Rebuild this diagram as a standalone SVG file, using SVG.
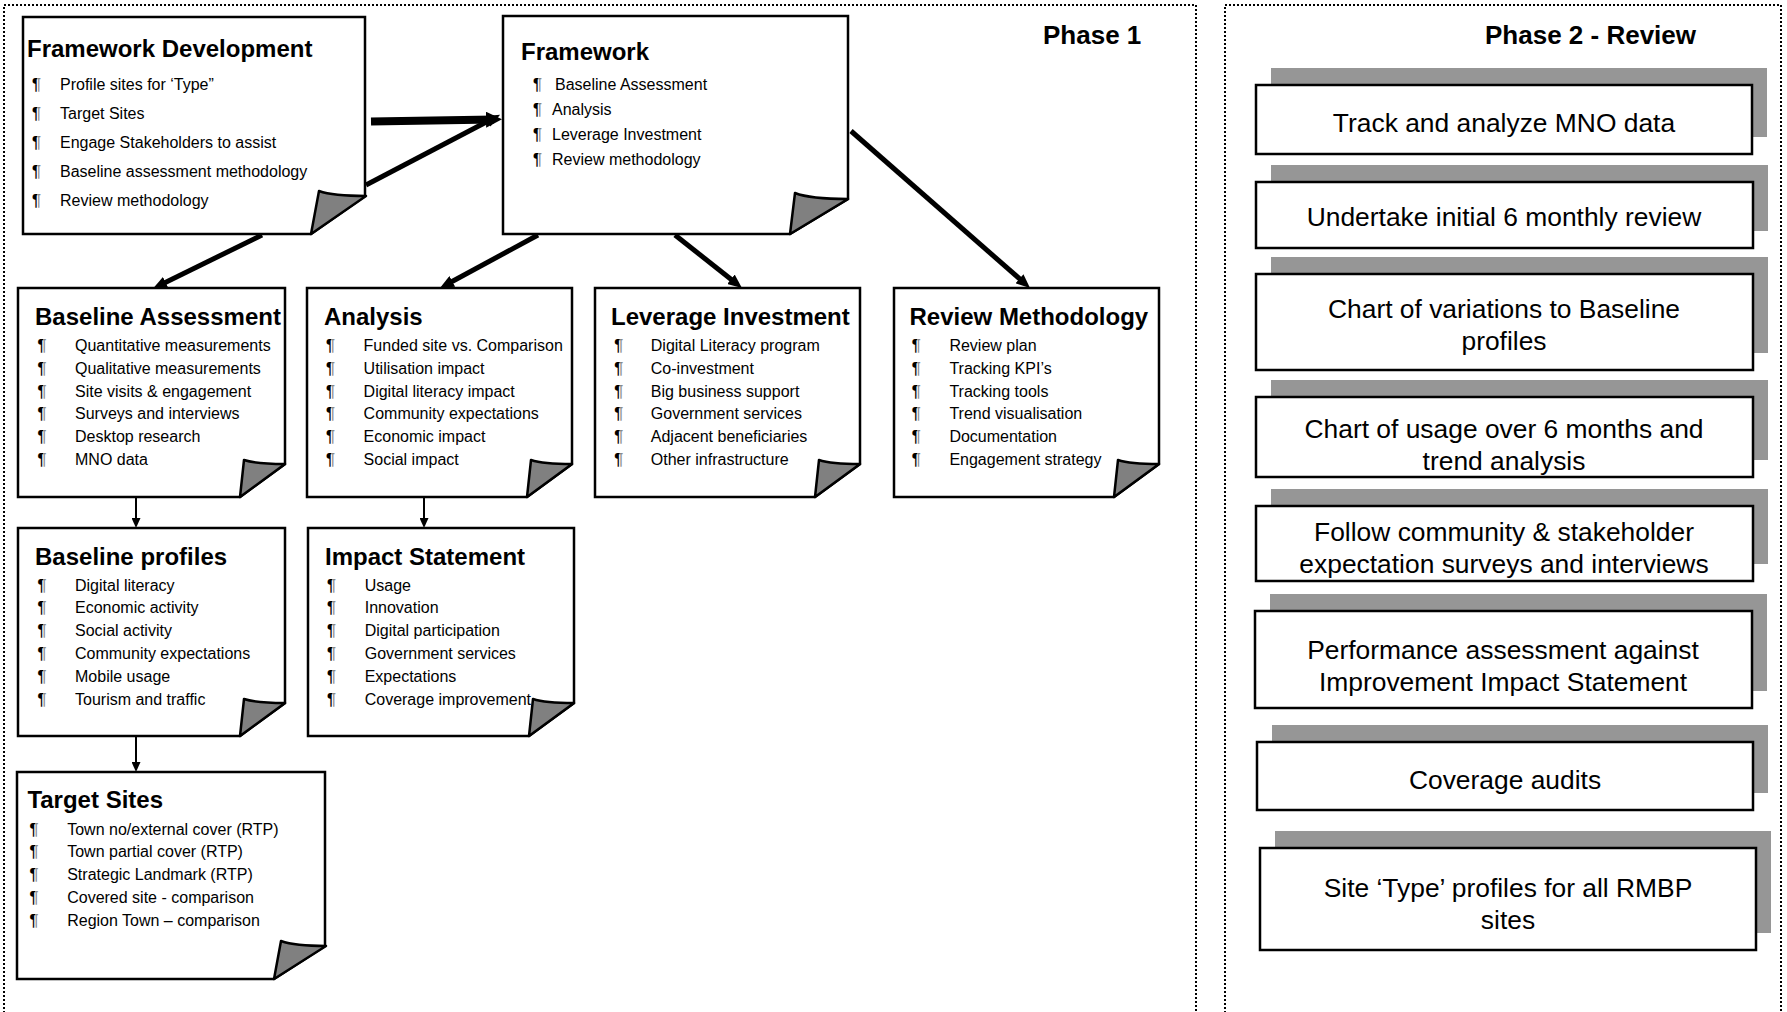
<svg xmlns="http://www.w3.org/2000/svg" width="1787" height="1012" viewBox="0 0 1787 1012">
<style>
text{font-family:"Liberation Sans",Arial,sans-serif;fill:#000}
.t{font-size:24px;font-weight:bold}
.ph{font-size:26px;font-weight:bold}
.i{font-size:16px}
.b{font-size:16px;font-weight:bold;fill:url(#pg)}
.p2{font-size:26.4px;text-anchor:middle}
.page{fill:#fff;stroke:#000;stroke-width:2.5;stroke-linejoin:miter}
.fold{fill:#808080;stroke:#000;stroke-width:2.5;stroke-linejoin:round}
.frame{fill:none;stroke:#000;stroke-width:2;stroke-dasharray:2 2}
.sh{fill:#969696}
.bx{fill:#fff;stroke:#000;stroke-width:2.5}
.thick{stroke:#000;stroke-width:5;fill:none;marker-end:url(#ah)}
.thin{stroke:#000;stroke-width:2;fill:none;marker-end:url(#as)}
</style>
<defs>
<linearGradient id="pg" x1="0" y1="0" x2="1" y2="0">
<stop offset="0" stop-color="#000"/><stop offset="0.55" stop-color="#000"/><stop offset="0.6" stop-color="#8a8a8a"/><stop offset="1" stop-color="#8a8a8a"/>
</linearGradient>
<marker id="ah" markerUnits="userSpaceOnUse" markerWidth="14" markerHeight="12" refX="6" refY="6" orient="auto"><path d="M0,0 L14,6 L0,12 Z" fill="#000"/></marker>
<marker id="ahb" markerUnits="userSpaceOnUse" markerWidth="16" markerHeight="16" refX="8" refY="8" orient="auto"><path d="M0,0 L16,8 L0,16 Z" fill="#000"/></marker>
<marker id="as" markerUnits="userSpaceOnUse" markerWidth="10" markerHeight="9" refX="5" refY="4.5" orient="auto"><path d="M0,0 L10,4.5 L0,9 Z" fill="#000"/></marker>
</defs>
<rect fill="#fff" x="0" y="0" width="1787" height="1012"/>
<rect class="frame" x="4" y="5" width="1192" height="1030"/>
<rect class="frame" x="1225" y="5" width="556" height="1030"/>
<text class="ph" x="1043" y="44">Phase 1</text>
<text class="ph" x="1485" y="44">Phase 2 - Review</text>

<g id="connectors">
<path class="thick" style="stroke-width:8;marker-end:url(#ahb)" d="M371,121.5 L494,119.5"/>
<path class="thick" d="M366,185 L493,118.5"/>
<path class="thick" d="M262,235 L160.2,285"/>
<path class="thick" d="M538,235 L447,284.2"/>
<path class="thick" d="M675,235 L735.7,283"/>
<path class="thick" d="M851,131 L1024,282.7"/>
<path class="thin" d="M136,497 L136,523"/>
<path class="thin" d="M424,497 L424,523"/>
<path class="thin" d="M136,736 L136,767"/>
</g>

<g id="framework-development">
<path class="page" d="M23,17 H365 V196 L311,234 H23 Z"/>
<path class="fold" d="M319,191 Q333,196 366,196 L311,234 Z"/>
<text class="t" x="27" y="56.5">Framework Development</text>
<text class="b" x="32" y="90">¶</text><text class="i" x="60" y="90">Profile sites for ‘Type”</text>
<text class="b" x="32" y="118.6">¶</text><text class="i" x="60" y="118.6">Target Sites</text>
<text class="b" x="32" y="148.3">¶</text><text class="i" x="60" y="148.3">Engage Stakeholders to assist</text>
<text class="b" x="32" y="176.8">¶</text><text class="i" x="60" y="176.8">Baseline assessment methodology</text>
<text class="b" x="32" y="206.4">¶</text><text class="i" x="60" y="206.4">Review methodology</text>
</g>

<g id="framework">
<path class="page" d="M503,16 H848 V199 L790,234 H503 Z"/>
<path class="fold" d="M795,193 Q810,199 848,199 L790,234 Z"/>
<text class="t" x="521" y="60">Framework</text>
<text class="b" x="533" y="90">¶</text><text class="i" x="555" y="90">Baseline Assessment</text>
<text class="b" x="533" y="115">¶</text><text class="i" x="552" y="115">Analysis</text>
<text class="b" x="533" y="140">¶</text><text class="i" x="552" y="140">Leverage Investment</text>
<text class="b" x="533" y="165">¶</text><text class="i" x="552" y="165">Review methodology</text>
</g>

<g id="baseline-assessment">
<path class="page" d="M18,288 H285 V464 L240,497 H18 Z"/>
<path class="fold" d="M244,460 Q256,464 285,464 L240,497 Z"/>
<text class="t" x="35" y="324.5">Baseline Assessment</text>
<text class="b" x="37.6" y="351">¶</text><text class="i" x="75" y="351">Quantitative measurements</text>
<text class="b" x="37.6" y="373.8">¶</text><text class="i" x="75" y="373.8">Qualitative measurements</text>
<text class="b" x="37.6" y="396.6">¶</text><text class="i" x="75" y="396.6">Site visits &amp; engagement</text>
<text class="b" x="37.6" y="419.4">¶</text><text class="i" x="75" y="419.4">Surveys and interviews</text>
<text class="b" x="37.6" y="442.2">¶</text><text class="i" x="75" y="442.2">Desktop research</text>
<text class="b" x="37.6" y="465">¶</text><text class="i" x="75" y="465">MNO data</text>
</g>

<g id="analysis">
<path class="page" d="M307,288 H572 V464 L527,497 H307 Z"/>
<path class="fold" d="M531,460 Q543,464 572,464 L527,497 Z"/>
<text class="t" x="324" y="324.5">Analysis</text>
<text class="b" x="326" y="351">¶</text><text class="i" x="363.6" y="351">Funded site vs. Comparison</text>
<text class="b" x="326" y="373.8">¶</text><text class="i" x="363.6" y="373.8">Utilisation impact</text>
<text class="b" x="326" y="396.6">¶</text><text class="i" x="363.6" y="396.6">Digital literacy impact</text>
<text class="b" x="326" y="419.4">¶</text><text class="i" x="363.6" y="419.4">Community expectations</text>
<text class="b" x="326" y="442.2">¶</text><text class="i" x="363.6" y="442.2">Economic impact</text>
<text class="b" x="326" y="465">¶</text><text class="i" x="363.6" y="465">Social impact</text>
</g>

<g id="leverage-investment">
<path class="page" d="M595,288 H860 V464 L815,497 H595 Z"/>
<path class="fold" d="M819,460 Q831,464 860,464 L815,497 Z"/>
<text class="t" x="611" y="324.5">Leverage Investment</text>
<text class="b" x="614.3" y="351">¶</text><text class="i" x="650.8" y="351">Digital Literacy program</text>
<text class="b" x="614.3" y="373.8">¶</text><text class="i" x="650.8" y="373.8">Co-investment</text>
<text class="b" x="614.3" y="396.6">¶</text><text class="i" x="650.8" y="396.6">Big business support</text>
<text class="b" x="614.3" y="419.4">¶</text><text class="i" x="650.8" y="419.4">Government services</text>
<text class="b" x="614.3" y="442.2">¶</text><text class="i" x="650.8" y="442.2">Adjacent beneficiaries</text>
<text class="b" x="614.3" y="465">¶</text><text class="i" x="650.8" y="465">Other infrastructure</text>
</g>

<g id="review-methodology">
<path class="page" d="M894,288 H1159 V464 L1114,497 H894 Z"/>
<path class="fold" d="M1118,460 Q1130,464 1159,464 L1114,497 Z"/>
<text class="t" x="909.5" y="324.5">Review Methodology</text>
<text class="b" x="911.8" y="351">¶</text><text class="i" x="949.4" y="351">Review plan</text>
<text class="b" x="911.8" y="373.8">¶</text><text class="i" x="949.4" y="373.8">Tracking KPI’s</text>
<text class="b" x="911.8" y="396.6">¶</text><text class="i" x="949.4" y="396.6">Tracking tools</text>
<text class="b" x="911.8" y="419.4">¶</text><text class="i" x="949.4" y="419.4">Trend visualisation</text>
<text class="b" x="911.8" y="442.2">¶</text><text class="i" x="949.4" y="442.2">Documentation</text>
<text class="b" x="911.8" y="465">¶</text><text class="i" x="949.4" y="465">Engagement strategy</text>
</g>

<g id="baseline-profiles">
<path class="page" d="M18,528 H285 V703 L240,736 H18 Z"/>
<path class="fold" d="M244,699 Q256,703 285,703 L240,736 Z"/>
<text class="t" x="35" y="565">Baseline profiles</text>
<text class="b" x="37.6" y="590.5">¶</text><text class="i" x="75" y="590.5">Digital literacy</text>
<text class="b" x="37.6" y="613.3">¶</text><text class="i" x="75" y="613.3">Economic activity</text>
<text class="b" x="37.6" y="636.1">¶</text><text class="i" x="75" y="636.1">Social activity</text>
<text class="b" x="37.6" y="658.9">¶</text><text class="i" x="75" y="658.9">Community expectations</text>
<text class="b" x="37.6" y="681.7">¶</text><text class="i" x="75" y="681.7">Mobile usage</text>
<text class="b" x="37.6" y="704.5">¶</text><text class="i" x="75" y="704.5">Tourism and traffic</text>
</g>

<g id="impact-statement">
<path class="page" d="M308,528 H574 V703 L529,736 H308 Z"/>
<path class="fold" d="M533,699 Q545,703 574,703 L529,736 Z"/>
<text class="t" x="325" y="565">Impact Statement</text>
<text class="b" x="327" y="590.5">¶</text><text class="i" x="364.7" y="590.5">Usage</text>
<text class="b" x="327" y="613.3">¶</text><text class="i" x="364.7" y="613.3">Innovation</text>
<text class="b" x="327" y="636.1">¶</text><text class="i" x="364.7" y="636.1">Digital participation</text>
<text class="b" x="327" y="658.9">¶</text><text class="i" x="364.7" y="658.9">Government services</text>
<text class="b" x="327" y="681.7">¶</text><text class="i" x="364.7" y="681.7">Expectations</text>
<text class="b" x="327" y="704.5">¶</text><text class="i" x="364.7" y="704.5">Coverage improvement</text>
</g>

<g id="target-sites">
<path class="page" d="M17,772 H325 V946 L274,979 H17 Z"/>
<path class="fold" d="M281,941 Q295,946 326,946 L274,979 Z"/>
<text class="t" x="27.4" y="808">Target Sites</text>
<text class="b" x="29.6" y="834.5">¶</text><text class="i" x="67.2" y="834.5">Town no/external cover (RTP)</text>
<text class="b" x="29.6" y="857.3">¶</text><text class="i" x="67.2" y="857.3">Town partial cover (RTP)</text>
<text class="b" x="29.6" y="880.1">¶</text><text class="i" x="67.2" y="880.1">Strategic Landmark (RTP)</text>
<text class="b" x="29.6" y="902.9">¶</text><text class="i" x="67.2" y="902.9">Covered site - comparison</text>
<text class="b" x="29.6" y="925.7">¶</text><text class="i" x="67.2" y="925.7">Region Town – comparison</text>
</g>

<g id="p2-track">
<rect class="sh" x="1271" y="68" width="496" height="69"/>
<rect class="bx" x="1256" y="85" width="496" height="69"/>
<text class="p2" x="1504" y="132">Track and analyze MNO data</text>
</g>
<g id="p2-undertake">
<rect class="sh" x="1271" y="165" width="497" height="66"/>
<rect class="bx" x="1256" y="182" width="497" height="66"/>
<text class="p2" x="1504" y="226">Undertake initial 6 monthly review</text>
</g>
<g id="p2-variations">
<rect class="sh" x="1271" y="257" width="497" height="96"/>
<rect class="bx" x="1256" y="274" width="497" height="96"/>
<text class="p2" x="1504" y="318">Chart of variations to Baseline</text>
<text class="p2" x="1504" y="350">profiles</text>
</g>
<g id="p2-usage">
<rect class="sh" x="1271" y="380" width="497" height="80"/>
<rect class="bx" x="1256" y="397" width="497" height="80"/>
<text class="p2" x="1504" y="438">Chart of usage over 6 months and</text>
<text class="p2" x="1504" y="470">trend analysis</text>
</g>
<g id="p2-follow">
<rect class="sh" x="1271" y="489" width="497" height="75"/>
<rect class="bx" x="1256" y="506" width="497" height="75"/>
<text class="p2" x="1504" y="540.5">Follow community &amp; stakeholder</text>
<text class="p2" x="1504" y="572.5">expectation surveys and interviews</text>
</g>
<g id="p2-performance">
<rect class="sh" x="1270" y="594" width="497" height="97"/>
<rect class="bx" x="1255" y="611" width="497" height="97"/>
<text class="p2" x="1503" y="659">Performance assessment against</text>
<text class="p2" x="1503" y="691">Improvement Impact Statement</text>
</g>
<g id="p2-coverage">
<rect class="sh" x="1272" y="725" width="496" height="68"/>
<rect class="bx" x="1257" y="742" width="496" height="68"/>
<text class="p2" x="1505" y="789">Coverage audits</text>
</g>
<g id="p2-site-type">
<rect class="sh" x="1275" y="831" width="496" height="102"/>
<rect class="bx" x="1260" y="848" width="496" height="102"/>
<text class="p2" x="1508" y="897">Site ‘Type’ profiles for all RMBP</text>
<text class="p2" x="1508" y="929">sites</text>
</g>
</svg>
